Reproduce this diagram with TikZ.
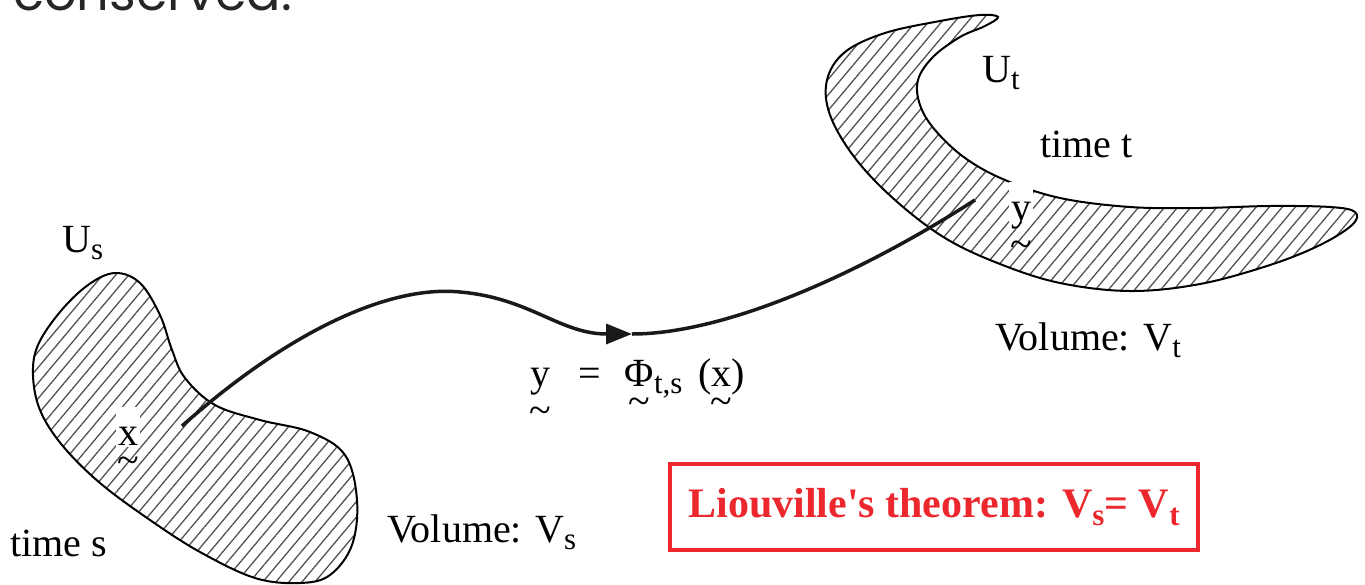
\documentclass[tikz,border=0pt]{standalone}
\usepackage{fontspec}
\setmainfont{Liberation Serif}
\newfontfamily\headfont{Poppins}
\usetikzlibrary{positioning,arrows.meta,patterns.meta}
\definecolor{thmred}{RGB}{236,40,46}
\newsavebox{\tlbox}
\newcommand{\subtxt}[1]{\raisebox{-0.18em}{\fontsize{31}{33}\selectfont #1}}
\newcommand{\undertilde}[1]{\sbox{\tlbox}{#1}\ooalign{\usebox{\tlbox}\cr\hidewidth\raisebox{\dimexpr-\dp\tlbox-0.72em\relax}{\textasciitilde}\hidewidth\cr}}
\begin{document}
\begin{tikzpicture}[x=1pt, y=-1pt,
    blob/.style={draw=black, line width=2pt, pattern={Lines[angle=50,distance=10pt,line width=1.3pt]}, pattern color=black!68},
    lbl/.style={font=\fontsize{40}{44}\selectfont, inner sep=0pt, anchor=base west},
    pt/.style={lbl, anchor=base, fill=white, inner sep=2pt, text height=36pt, text depth=0pt},
    flow/.style={line width=3.5pt, black!90}
]
\useasboundingbox (0,0) rectangle (1365,584);
\begin{scope}
\clip (0,0) rectangle (1365,584);
\node[anchor=base west, inner sep=0pt, font=\headfont\fontsize{51}{56}\selectfont, text=black!85] (head) at (13,10) {conserved.};
\end{scope}

% region at time s
\draw[blob] plot[smooth cycle, tension=0.6] coordinates {(115,273) (140,283) (160,315) (172,350) (185,378) (215,405) (260,420) (310,432) (345,455) (357,500) (352,545) (330,575) (300,583) (255,578) (200,552) (150,520) (100,483) (62,445) (40,410) (33,375) (38,345) (60,312) (88,285)};
% region at time t
\draw[blob] plot[smooth cycle, tension=0.6] coordinates {(998,17) (985,26) (960,37) (933,57) (918,80) (920,105) (935,130) (965,158) (1005,180) (1060,198) (1130,207) (1200,208) (1270,206) (1330,207) (1355,212) (1352,225) (1320,245) (1270,265) (1200,284) (1130,291) (1060,283) (1000,264) (945,238) (895,200) (855,158) (830,115) (827,80) (845,52) (885,33) (940,21) (980,15)};

\node[lbl] (us) at (62,252) {U\subtxt{s}};
\node[lbl] (times) at (10,556) {time s};
\node[lbl] (vols) at (387,542) {Volume: V\subtxt{s}};
\node[pt] (xlab) at (128,445) {\undertilde{x}};
\node[lbl] (ut) at (982,82) {U\subtxt{t}};
\node[lbl] (timet) at (1040,157) {time t};
\node[lbl] (volt) at (995,350) {Volume: V\subtxt{t}};
\node[pt] (ylab) at (1021,220) {\undertilde{y}};
\node[lbl] (map) at (530,386) {\undertilde{y}\hspace{0.7em}=\hspace{0.6em}\undertilde{Φ}\subtxt{t,s}\hspace{0.4em}(\undertilde{x})};
\node[draw=thmred, line width=4pt, text=thmred, font=\bfseries\fontsize{42}{46}\selectfont, minimum width=528pt, minimum height=86pt, inner sep=0pt] (thm) at (934,507) {Liouville\textquotesingle s theorem: V\subtxt{s}= V\subtxt{t}};

% flow map
\coordinate (xs) at (182,426);
\coordinate (mid) at (632,334);
\coordinate (yt) at (975,200);
\draw[flow, -{Triangle[length=26pt,width=20pt]}] (xs) .. controls (290,330) and (390,285) .. (460,292) .. controls (530,298) and (560,334) .. (mid);
\draw[flow] (mid) .. controls (720,334) and (850,280) .. (yt);
\end{tikzpicture}
\end{document}
